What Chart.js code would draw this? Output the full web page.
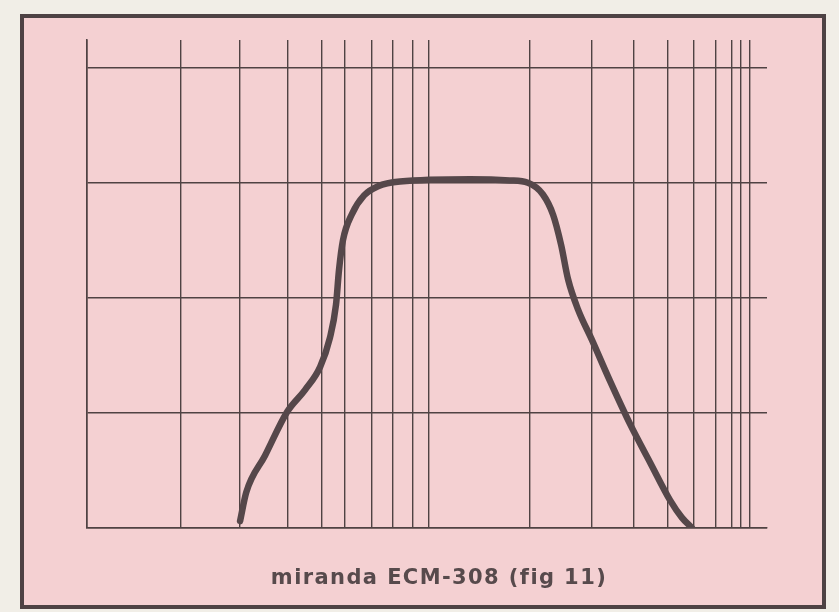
<!DOCTYPE html>
<html>
<head>
<meta charset="utf-8">
<script src="https://cdn.jsdelivr.net/npm/chart.js@4/dist/chart.umd.min.js"></script>
<style>
  html, body { margin: 0; padding: 0; background: #f1eee7; width: 839px; height: 612px; overflow: hidden; }
  #frame { position: absolute; left: 20px; top: 14px; width: 798px; height: 587px; border: 4px solid #4e4244; background: #f4d0d2; }
  #wrap { position: absolute; left: 0; top: 0; width: 839px; height: 612px; }
</style>
</head>
<body>
<div id="frame"></div>
<div id="wrap"><canvas id="c" width="839" height="612"></canvas></div>
<script>
// Response curve (x: relative frequency on log paper, y: level)
const freq  = [2.82, 2.94, 3.34, 3.88, 4.38, 4.85, 5.18, 5.40, 5.51, 5.66, 6.02, 6.53, 7.18, 8.33, 13.4, 17.5, 19.8, 21.9, 23.5, 24.8, 26.0, 27.8, 30.6, 34.5, 39.6, 45.3, 51.9, 56.2, 60.2];
const level = [0.6, 3.1, 6.3, 10.1, 12.0, 14.0, 16.5, 19.4, 22.4, 25.0, 27.3, 28.9, 29.7, 30.1, 30.3, 30.2, 30.0, 29.0, 27.2, 24.6, 21.6, 19.0, 16.3, 12.8, 9.0, 5.7, 2.4, 0.9, 0.0];

// Grid lines of the printed paper
const xGrid = [1, 1.89, 2.82, 3.88, 4.91, 5.74, 6.89, 7.94, 9.1, 10.1, 20.1, 30.6, 40.6, 51.1, 61, 70.8, 78.9, 83.9, 89.1];
const yGrid = [0, 10, 20, 30, 40];
const caption = 'miranda ECM-308 (fig 11)';

const ink = '#4f4243';

// Caption printed under the graph paper, slightly right of the grid's centre
const captionPlugin = {
  id: 'caption',
  afterDraw(chart) {
    const ctx = chart.ctx;
    const a = chart.chartArea;
    ctx.save();
    ctx.letterSpacing = '1.4px';
    ctx.font = 'bold 21px "DejaVu Sans"';
    ctx.fillStyle = '#574a4c';
    ctx.textAlign = 'center';
    ctx.textBaseline = 'alphabetic';
    ctx.fillText(caption, (a.left + a.right) / 2 + 12, a.bottom + 56);
    ctx.restore();
  }
};

new Chart(document.getElementById('c'), {
  type: 'line',
  data: {
    datasets: [{
      data: freq.map((f, i) => ({ x: f, y: level[i] })),
      borderColor: '#55474a',
      borderWidth: 6.5,
      pointRadius: 0,
      cubicInterpolationMode: 'monotone',
      fill: false,
      borderCapStyle: 'round',
      borderJoinStyle: 'round'
    }]
  },
  plugins: [captionPlugin],
  options: {
    responsive: false,
    animation: false,
    layout: { padding: { left: 87, right: 72, top: 40, bottom: 84 } },
    plugins: {
      legend: { display: false },
      tooltip: { enabled: false },
      title: { display: false }
    },
    scales: {
      x: {
        type: 'logarithmic',
        min: 1, max: 100,
        afterBuildTicks: s => { s.ticks = xGrid.map(v => ({ value: v })); },
        ticks: { display: false },
        grid: { color: ink, lineWidth: 1.4, drawTicks: false },
        border: { display: true, color: ink, width: 1.4 }
      },
      y: {
        type: 'linear',
        min: 0, max: 42.4,
        afterBuildTicks: s => { s.ticks = yGrid.map(v => ({ value: v })); },
        ticks: { display: false },
        grid: { color: ink, lineWidth: 1.4, drawTicks: false },
        border: { display: true, color: ink, width: 1.6 }
      }
    }
  }
});
</script>
</body>
</html>
